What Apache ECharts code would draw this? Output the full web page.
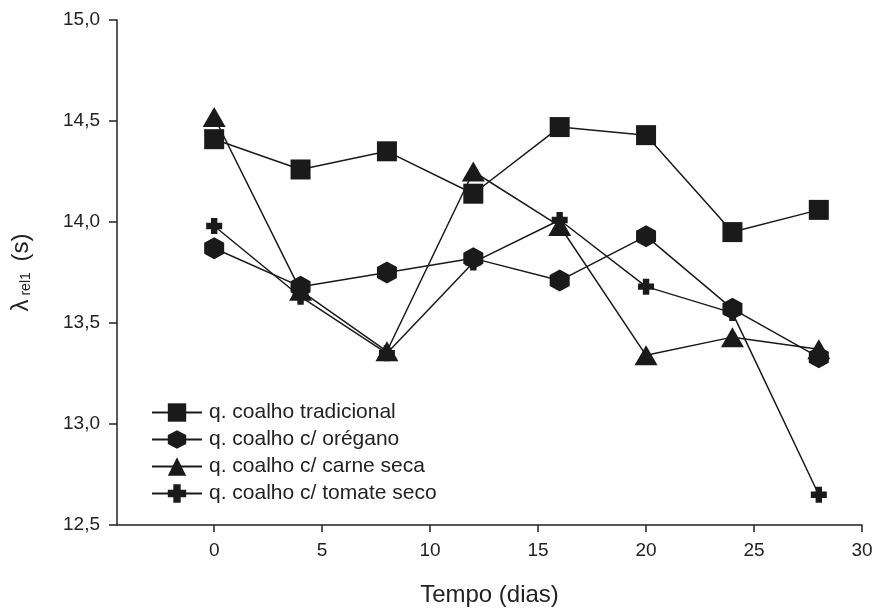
<!DOCTYPE html>
<html>
<head>
<meta charset="utf-8">
<script src="https://cdn.jsdelivr.net/npm/echarts@6/dist/echarts.min.js"></script>
<style>
html, body { margin: 0; padding: 0; background: #fff; }
#chart { width: 877px; height: 612px; }
</style>
</head>
<body>
<div id="chart"></div>
<script>
// dias de armazenamento
var dias = [0, 4, 8, 12, 16, 20, 24, 28];
// lambda rel1 (s) por tipo de queijo
var tradicional = [14.41, 14.26, 14.35, 14.14, 14.47, 14.43, 13.95, 14.06];
var oregano     = [13.87, 13.68, 13.75, 13.82, 13.71, 13.93, 13.57, 13.33];
var carneSeca   = [14.52, 13.66, 13.36, 14.25, 13.98, 13.34, 13.43, 13.37];
var tomateSeco  = [13.98, 13.63, 13.35, 13.80, 14.01, 13.68, 13.55, 12.65];
var nomes = ['q. coalho tradicional', 'q. coalho c/ orégano', 'q. coalho c/ carne seca', 'q. coalho c/ tomate seco'];
var xTicks = [0, 5, 10, 15, 20, 25, 30];

var hexagono = 'path://M50,0 L93.3,25 L93.3,75 L50,100 L6.7,75 L6.7,25 Z';
var cruz = 'path://M30,0 H70 V30 H100 V70 H70 V100 H30 V70 H0 V30 H30 Z';
var cor = '#1a1a1a';
var fonte = 'Liberation Sans';

function pares(ys) {
	var out = [];
	for (var i = 0; i < dias.length; i++) {
		out.push([dias[i], ys[i]]);
	}
	return out;
}

function serie(nome, ys, simbolo, tam) {
	return {
		name: nome,
		type: 'line',
		data: pares(ys),
		symbol: simbolo,
		symbolSize: tam,
		showAllSymbol: true,
		lineStyle: { color: cor, width: 1.5 },
		itemStyle: { color: cor, borderWidth: 0 },
		emphasis: { disabled: true },
		animation: false
	};
}

var chart = echarts.init(document.getElementById('chart'), null, { renderer: 'canvas' });
var option = {
	backgroundColor: '#fff',
	animation: false,
	grid: { left: 117, right: 15, top: 20, bottom: 84, containLabel: false },
	legend: {
		orient: 'vertical',
		left: 146,
		top: 397,
		itemWidth: 50,
		itemHeight: 23,
		itemGap: 6,
		data: nomes,
		textStyle: { fontFamily: fonte, fontSize: 21, lineHeight: 20, color: '#222', padding: [0, 0, 0, 2] }
	},
	xAxis: {
		type: 'value',
		min: -4.5,
		max: 30,
		name: 'Tempo (dias)',
		nameLocation: 'middle',
		nameGap: 58,
		nameTextStyle: { fontFamily: fonte, fontSize: 24, color: '#222' },
		axisLine: { show: true, onZero: false, lineStyle: { color: '#222', width: 1.5 } },
		axisTick: { show: true, length: 7, customValues: xTicks, lineStyle: { color: '#222', width: 1.5 } },
		axisLabel: { customValues: xTicks, margin: 16, fontFamily: fonte, fontSize: 19, color: '#222' },
		splitLine: { show: false }
	},
	yAxis: {
		type: 'value',
		min: 12.5,
		max: 15,
		interval: 0.5,
		name: '{l|λ}{s| rel1}{l| (s)}',
		nameLocation: 'middle',
		nameGap: 84,
		nameRotate: 90,
		nameTextStyle: {
			rich: {
				l: { fontFamily: fonte, fontSize: 24, color: '#222', verticalAlign: 'bottom', lineHeight: 26 },
				s: { fontFamily: fonte, fontSize: 14, color: '#222', verticalAlign: 'bottom', lineHeight: 18, padding: [0, 4, 0, 0] }
			}
		},
		axisLine: { show: true, onZero: false, lineStyle: { color: '#222', width: 1.5 } },
		axisTick: { show: true, length: 8, lineStyle: { color: '#222', width: 1.5 } },
		axisLabel: {
			margin: 17,
			fontFamily: fonte,
			fontSize: 19,
			color: '#222',
			formatter: function (v) { return v.toFixed(1).replace('.', ','); }
		},
		splitLine: { show: false }
	},
	series: [
		serie(nomes[0], tradicional, 'rect', 20),
		serie(nomes[1], oregano, hexagono, [20, 22]),
		serie(nomes[2], carneSeca, 'triangle', [23, 20]),
		serie(nomes[3], tomateSeco, cruz, 16)
	]
};
chart.setOption(option);
</script>
</body>
</html>
